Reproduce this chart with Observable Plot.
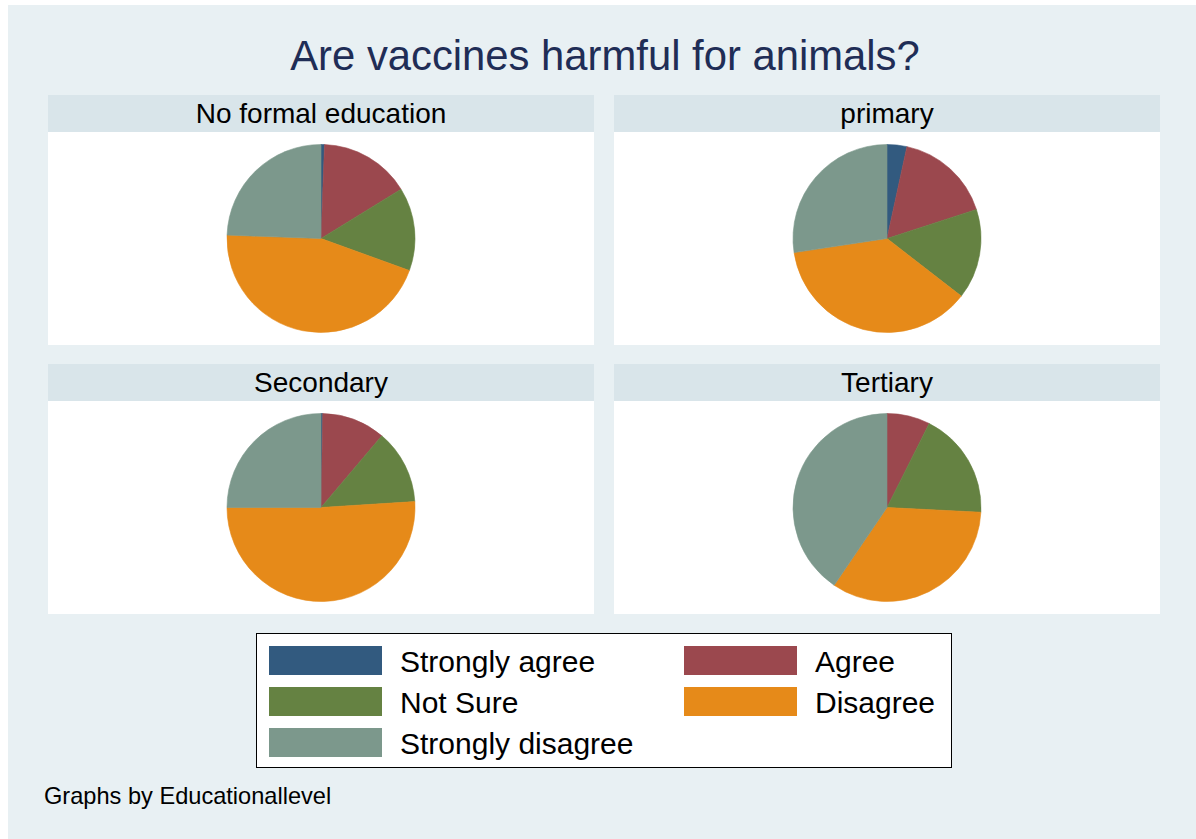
<!DOCTYPE html>
<html><head><meta charset="utf-8">
<script src="https://cdn.jsdelivr.net/npm/d3@7"></script>
<script src="https://cdn.jsdelivr.net/npm/@observablehq/plot@0.6"></script>
<style>
body{margin:0;background:#fff;font-family:"Liberation Sans",Arial,Helvetica,sans-serif;}
#page{position:relative;width:1196px;height:839px;overflow:hidden;background:#fff;}
#bg{position:absolute;left:8px;top:5px;width:1188px;height:834px;background:#e8f0f3;}
.abs{position:absolute;}
#title{left:0;width:1210px;top:32px;text-align:center;font-size:41.8px;color:#1f2d56;line-height:48px;white-space:nowrap;}
.hdr{position:absolute;background:#d9e5ea;height:37px;width:546px;text-align:center;font-size:28px;line-height:37px;color:#000;white-space:nowrap;}
.panel{position:absolute;width:546px;height:213px;background:#fff;}
#legend{left:256px;top:633px;width:694px;height:133px;border:1px solid #000;background:#fff;}
.sw{position:absolute;width:113px;height:29px;}
.lt{position:absolute;font-size:30px;line-height:29px;height:29px;white-space:nowrap;color:#000;}
#caption{left:44px;top:783px;font-size:23.6px;line-height:26px;color:#000;white-space:nowrap;}
</style></head><body>
<div id="page"><div id="bg"></div></div>
<script>
// ---- data ----
const categories = ["Strongly agree", "Agree", "Not Sure", "Disagree", "Strongly disagree"];
const levels = ["No formal education", "primary", "Secondary", "Tertiary"];
const noFormalEducation = [0.6, 15.6, 14.3, 45.0, 24.4];
const primary = [3.4, 16.6, 15.5, 37.1, 27.4];
const secondary = [0.3, 10.9, 12.8, 51.0, 25.0];
const tertiary = [0.0, 7.4, 18.4, 33.7, 40.5];
const seriesByLevel = [noFormalEducation, primary, secondary, tertiary];
const colors = ["#325a7f", "#9b484e", "#658242", "#e68a19", "#7c988c"];
const titleText = "Are vaccines harmful for animals?";
const captionText = "Graphs by Educationallevel";

const color = Plot.scale({color: {type: "ordinal", domain: categories, range: colors}});
const page = document.getElementById("page");

function el(tag, cls, id, text) {
  const e = document.createElement(tag);
  if (cls) e.className = cls;
  if (id) e.id = id;
  if (text != null) e.textContent = text;
  page.appendChild(e);
  return e;
}

el("div", "abs", "title", titleText);

const W = 546, H = 213;
function pieMark(values) {
  const rows = categories.map((c, i) => ({category: c, value: values[i]}));
  return function(index, scales, channels, dimensions) {
    const w = (dimensions && dimensions.width) || W;
    const h = (dimensions && dimensions.height) || H;
    const r = Math.min(w, h) / 2 - 12.5;
    const arcs = d3.pie().sort(null).value(d => d.value)(rows).filter(a => a.data.value > 0);
    const g = d3.create("svg:g").attr("transform", `translate(${w / 2},${h / 2})`);
    g.selectAll("path").data(arcs).join("path")
      .attr("d", d3.arc().innerRadius(0).outerRadius(r))
      .attr("fill", d => color.apply(d.data.category))
      .attr("stroke", d => color.apply(d.data.category))
      .attr("stroke-width", 0.6);
    return g.node();
  };
}

const positions = [[48, 95], [614, 95], [48, 364], [614, 364]];
levels.forEach((lvl, i) => {
  const [x, y] = positions[i];
  const hd = el("div", "hdr", null, lvl);
  hd.style.left = x + "px"; hd.style.top = y + "px";
  const pn = el("div", "panel");
  pn.style.left = x + "px"; pn.style.top = (y + 37) + "px";
  const svg = Plot.plot({
    width: W, height: H,
    margin: 0,
    style: {background: "#fff", overflow: "visible"},
    marks: [pieMark(seriesByLevel[i])]
  });
  pn.appendChild(svg);
});

const legend = el("div", "abs", "legend");
const slots = [[12, 12], [427, 12], [12, 53], [427, 53], [12, 94]];
categories.forEach((c, i) => {
  const [sx, sy] = slots[i];
  const s = document.createElement("div");
  s.className = "sw";
  s.style.left = sx + "px"; s.style.top = sy + "px";
  s.style.background = color.apply(c);
  legend.appendChild(s);
  const t = document.createElement("div");
  t.className = "lt";
  t.textContent = c;
  t.style.left = (sx + 131) + "px"; t.style.top = (sy + 1) + "px";
  legend.appendChild(t);
});

el("div", "abs", "caption", captionText);
</script>
</body></html>
